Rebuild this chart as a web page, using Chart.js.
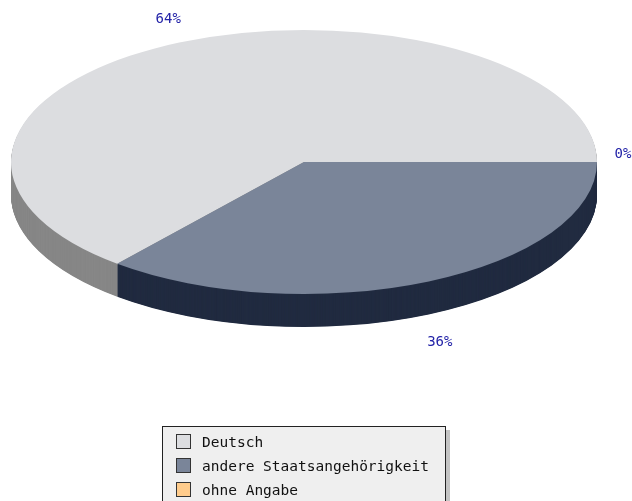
<!DOCTYPE html>
<html>
<head>
<meta charset="utf-8">
<script src="https://cdn.jsdelivr.net/npm/chart.js@4/dist/chart.umd.min.js"></script>
<style>
  body { margin: 0; background: #fff; }
  #wrap { position: relative; width: 632px; height: 501px; overflow: hidden; }
  #legend {
    position: absolute; left: 162px; top: 426px; width: 282px; height: 100px;
    background: #efefef; border: 1px solid #222; box-shadow: 4px 4px 0 #c4c4c4;
    font: 14.5px "DejaVu Sans Mono", monospace; color: #111;
  }
  #legend .item { position: absolute; left: 13px; height: 16px; line-height: 16px; white-space: nowrap; }
  #legend .box { display: inline-block; width: 13px; height: 13px; border: 1px solid #333; vertical-align: -2px; margin-right: 11px; }
</style>
</head>
<body>
<div id="wrap">
  <canvas id="myChart" width="632" height="501"></canvas>
  <div id="legend"></div>
</div>
<script>
// categories and shares (percent)
const labels = ['Deutsch', 'andere Staatsangehörigkeit', 'ohne Angabe'];
const shares = [64, 36, 0];
const topColors = ['#dcdde0', '#7a8599', '#ffcc8c'];
const sideColors = ['#878787', '#212b40', '#b08a50'];

// ellipse placement of the 3d pie
const CX = 304, CY = 162, RX = 293, RY = 132, DEPTH = 33;

function pieTransform(ctx, arc, d) {
  const R = arc.outerRadius;
  ctx.translate(CX, CY + d);
  ctx.scale(RX / R, -RY / R);   // flip so slices run counter clockwise
  ctx.translate(-arc.x, -arc.y);
}

const pie3d = {
  id: 'pie3d',
  beforeDatasetsDraw(chart) {
    const ctx = chart.ctx;
    const arcs = chart.getDatasetMeta(0).data;
    // side walls, deepest layer first
    for (let d = DEPTH; d >= 1; d -= 0.5) {
      ctx.save();
      pieTransform(ctx, arcs[0], d);
      arcs.forEach((arc, i) => {
        const side = Object.create(arc);
        side.options = Object.assign({}, arc.options, {backgroundColor: sideColors[i], borderWidth: 0});
        side.draw(ctx);
      });
      ctx.restore();
    }
    // top face
    ctx.save();
    pieTransform(ctx, arcs[0], 0);
    arcs.forEach(arc => arc.draw(ctx));
    ctx.restore();
    return false;
  },
  afterDraw(chart) {
    const ctx = chart.ctx;
    const arcs = chart.getDatasetMeta(0).data;
    const total = shares.reduce((a, b) => a + b, 0);
    ctx.save();
    ctx.font = '14px "DejaVu Sans Mono", monospace';
    ctx.fillStyle = '#2323a8';
    ctx.textAlign = 'center';
    ctx.textBaseline = 'middle';
    arcs.forEach((arc, i) => {
      const mid = (arc.startAngle + arc.endAngle) / 2;
      const c = Math.cos(mid), s = -Math.sin(mid);   // flipped screen direction
      const x = CX + c * (RX + 26);
      let y = CY + s * (RY + 26);
      if (s > 0.05) y += DEPTH + 4;
      if (Math.abs(s) <= 0.05) y -= 8;
      ctx.fillText(Math.round(shares[i] / total * 100) + '%', x, y);
    });
    ctx.restore();
  }
};

new Chart(document.getElementById('myChart'), {
  type: 'pie',
  data: {
    labels: labels,
    datasets: [{
      data: shares,
      backgroundColor: topColors,
      borderWidth: 0,
      clip: false
    }]
  },
  options: {
    responsive: false,
    animation: false,
    rotation: 90,
    plugins: {
      legend: { display: false },
      tooltip: { enabled: false }
    }
  },
  plugins: [pie3d]
});

// legend
const legend = document.getElementById('legend');
labels.forEach((name, i) => {
  const item = document.createElement('div');
  item.className = 'item';
  item.style.top = (7 + i * 24) + 'px';
  item.innerHTML = '<span class="box" style="background:' + topColors[i] + '"></span>' + name;
  legend.appendChild(item);
});
</script>
</body>
</html>
